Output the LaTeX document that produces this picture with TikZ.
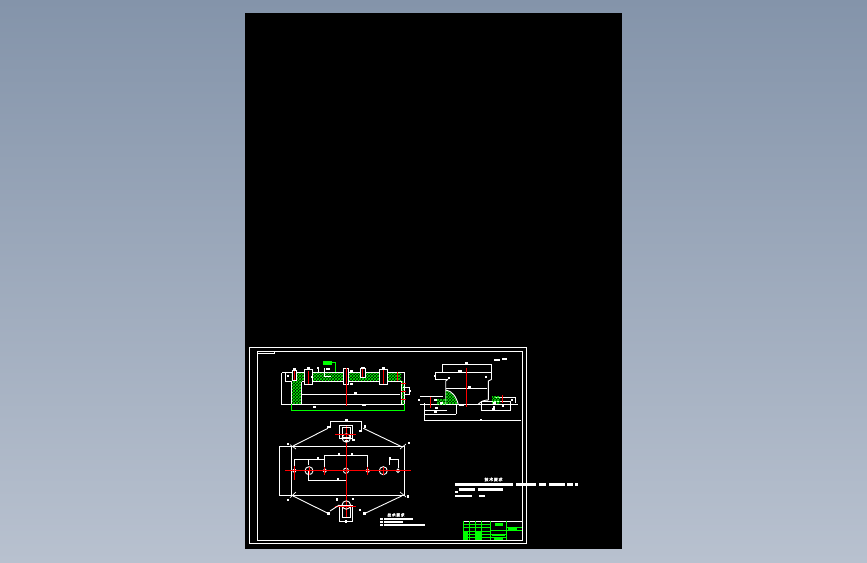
\documentclass[tikz,border=0pt]{standalone}
\usepackage{fontspec}
\newfontfamily\cjk[FakeBold=2]{Noto Sans CJK SC}
\usetikzlibrary{patterns}
\definecolor{cadred}{RGB}{255,0,0}
\definecolor{cadgreen}{RGB}{0,255,0}
\definecolor{skytop}{RGB}{132,148,170}
\definecolor{skybot}{RGB}{184,193,207}
\tikzset{
  wline/.style={draw=white, line width=0.9pt},
  thin line/.style={draw=white, line width=0.7pt},
  redline/.style={draw=cadred, line width=1pt},
  gline/.style={draw=cadgreen, line width=0.9pt},
  hatched/.style={pattern=crosshatch, pattern color=cadgreen},
  blob/.style={fill=white, draw=none},
}
% short filled bar in place of an unreadable dimension text
\newcommand{\blobat}[3]{\fill[blob] (#1-#3/2,#2-1.1) rectangle (#1+#3/2,#2+1.1);}
\begin{document}
\begin{tikzpicture}[x=1pt,y=-1pt]
  \useasboundingbox (0,0) rectangle (867,562);
  \shade[top color=skytop, bottom color=skybot, draw=none] (0,0) rectangle (867,562);
  \fill[black] (245,13) rectangle (622,549);
  % frames
  \draw[wline] (249.3,347.5) rectangle (526,543.8);
  \draw[wline] (257.5,351.3) rectangle (522,540.5);
  \draw[thin line] (257.5,353.2) -- (274.7,353.2) -- (274.7,351.3);

  % section view
  \fill[hatched] (291.7,372.3) rectangle (301.7,404.3);
  \fill[hatched] (301.7,372.3) rectangle (401,381.7);
  \fill[hatched] (401.7,381.7) rectangle (404.7,404.3);
  \draw[wline] (282.3,372.3) -- (404.7,372.3) -- (404.7,404.3) -- (281,404.3);
  \draw[wline] (291.7,381) -- (291.7,404.3);
  \draw[wline] (301.7,381.7) -- (301.7,404.3);
  \draw[wline] (301.7,381.7) -- (401,381.7) -- (401,404.3);
  \draw[wline] (301.7,394.3) -- (400,394.3);
  \draw[thin line] (281.7,373) -- (281.7,403.5);
  \draw[gline] (291.7,404.3) -- (291.7,410.3) -- (404.7,410.3) -- (404.7,404.3);
  \fill[cadgreen] (323,361) rectangle (332.3,365);
  \draw[gline] (332.3,362.5) -- (335,362.5) -- (335,372.3);
  % holes of the section view
  \foreach \hx/\hw/\htop/\hbot in {294.5/2.2/370/380, 308.5/3.8/369/384.5, 346.3/2.4/368/384, 362.7/2.4/368.5/377, 383.3/3.8/369/384.5}{
    \fill[black] (\hx-\hw,\htop) rectangle (\hx+\hw,\hbot);
    \draw[wline] (\hx-\hw,\htop) rectangle (\hx+\hw,\hbot);
  }
  \draw[redline] (294,370) -- (294,380);
  \draw[redline] (308.3,371) -- (308.3,384);
  \draw[redline] (346.3,368) -- (346.3,406);
  \draw[redline] (362.7,368.5) -- (362.7,377);
  \draw[redline] (383.3,370) -- (383.3,384);
  \draw[redline] (397.3,371.5) -- (397.3,381);
  \foreach \ry in {383.3,391,399}
    \draw[redline] (400.5,\ry) -- (405.5,\ry);
  % small marks on the section view
  \draw[thin line] (403,387) -- (409,387) -- (409,394) -- (404.7,394);
  \draw[thin line] (285,381) -- (285,372.3);
  \draw[thin line] (285,381) -- (291.7,381);
  \draw[thin line] (318,367) -- (318,372) (324,368) -- (324,376) -- (331,376);
  \foreach \bx/\by/\bw in {294.5/369.5/3, 308.5/368/3, 288/376/2.5, 317.5/368/2, 328/369/4, 351/371/3, 363/368/3.5, 383.3/368/3, 312/377/2, 351.5/384/3, 355/393/3, 363.5/405/4, 314.5/407/3, 409.5/391/2}
    {\blobat{\bx}{\by}{\bw}}

  % side view
  \draw[wline] (442.3,364.3) -- (491.7,364.3) -- (491.7,379.3);
  \draw[wline] (442.3,364.3) -- (442.3,372.3);
  \draw[wline] (435.7,372.3) -- (491.7,372.3);
  \draw[wline] (435.7,372.3) -- (435.7,379.3) -- (448,379.3);
  \draw[wline] (448,379.3) -- (445.7,381) -- (445.7,404.5);
  \draw[wline] (491.7,379.3) -- (488.3,381) -- (488.3,400);
  \draw[wline] (445.7,388.3) -- (487,388.3);
  \fill[hatched] (445.7,390) .. controls (452,391) and (456,396) .. (458.3,404.5) -- (445.7,404.5) -- cycle;
  \draw[wline] (445.7,390) .. controls (452,391) and (456,396) .. (458.3,404.5);
  \draw[wline] (478,404.5) .. controls (481,401) and (485,400) .. (488.3,400);
  \draw[wline] (420,404.5) -- (518,404.5);
  \draw[thin line] (420,396.7) -- (443,396.7);
  \draw[thin line] (495,397.3) -- (515,397.3) -- (515,403);
  \draw[wline] (424,403) -- (424,420.7);
  \draw[wline] (424,410.7) -- (446.5,410.7);
  \draw[wline] (425,414) -- (456,414);
  \draw[wline] (456,405) -- (456,414);
  \draw[wline] (481.7,401) -- (510.7,401) -- (510.7,410.7) -- (481.7,410.7) -- cycle;
  \draw[wline] (424,420.7) -- (521,420.7);
  \fill[hatched] (437,399) rectangle (445.5,404);
  \fill[hatched] (492,396.5) rectangle (500,403);
  \draw[redline] (466.7,367.5) -- (466.7,407);
  \draw[redline] (430.7,396.7) -- (430.7,407.5);
  \draw[redline] (502.7,395) -- (502.7,403);
  \foreach \bx/\by/\bw in {466.5/363/3, 459.5/371/4, 469.5/387.5/3, 435/376/1.5, 449/378/1.5, 486/377/1.5, 497/360/6, 504.5/359/5, 435/400/3, 441.5/403/2.5, 436/408/3, 461.5/405/5, 435.5/412.3/3, 480.5/420/2, 494/403/3, 494/407/1.5, 493.5/409.5/3, 418.5/400/2, 512/400/2, 503/406/2}
    {\blobat{\bx}{\by}{\bw}}

  % plan view
  \draw[wline] (291.7,446.7) rectangle (404.3,495);
  \draw[wline] (279.3,446.7) -- (291.7,446.7);
  \draw[wline] (279.3,495) -- (291.7,495);
  \draw[wline] (279.3,446.7) -- (279.3,495);
  \draw[wline] (324.3,455) -- (324.3,468) (324.3,455) -- (367.7,455) -- (367.7,468);
  \draw[wline] (346.3,455) -- (346.3,468);
  \draw[thin line] (294.3,459.3) -- (324.3,459.3) (294.3,459.3) -- (294.3,468);
  \draw[thin line] (308.7,459.3) -- (308.7,465);
  \draw[thin line] (389.3,459.3) -- (398,459.3) -- (398,468) (389.3,459.3) -- (389.3,465);
  \draw[thin line] (308.3,471) -- (308.3,480.3) -- (346.3,480.3) -- (346.3,471);
  \foreach \cx/\cr in {309/4, 383.3/4, 324.8/1.8, 367.7/1.8, 346/2.6, 398/1.8}
    \draw[wline] (\cx,470.7) circle (\cr);
  \fill[white] (294.3,470.7) circle (2);
  \draw[redline] (285,470.7) -- (410.7,470.7);
  \draw[redline] (346.3,425) -- (346.3,518);
  \draw[redline] (294.3,466) -- (294.3,480);
  \foreach \cx in {309,383.3,324.8,367.7}
    \draw[redline] (\cx,467) -- (\cx,474.5);
  % diagonals to the lugs
  \foreach \xa/\ya/\xb/\yb in {293/446/328/428.3, 363.3/428.3/401.7/446.7, 293/496/328/513.3, 365/513.3/401.7/496}
    \draw[wline] (\xa,\ya) -- (\xb,\yb);
  \foreach \xa/\ya/\xb/\yb in {290/444.7/296/449, 406/444/400/449, 290/497.7/296/492, 400/492/406/497}
    \draw[thin line] (\xa,\ya) -- (\xb,\yb);
  % upper lug
  \draw[wline] (330,427.5) -- (330,421) -- (361.7,421) -- (361.7,432);
  \draw[wline] (339.3,425) rectangle (352.7,438);
  \draw[wline] (342.3,427) rectangle (350.3,437);
  \draw[wline] (346.3,438) circle (4.2);
  \draw[redline] (335,434.3) -- (356,434.3);
  % lower lug
  \draw[wline] (339.3,505) rectangle (352.7,521);
  \draw[wline] (342.3,505) rectangle (350.3,517);
  \draw[wline] (346.3,505) circle (4.2);
  \draw[redline] (335,506.7) -- (356,506.7);
  \draw[wline] (330,511) -- (339.3,505);
  \foreach \bx/\by/\bw in {346.3/420/2.5, 328/427/3, 365/426.5/2.5, 360/431/1.5, 346.3/441/2.5, 353.5/440/3, 288/444/2, 409/443/2, 288/500/2, 408/496.5/2, 279.3/470.7/1.5, 339/454/2.5, 352/454/2.5, 318/458.5/2, 390/458.5/2, 338/479/2, 328/513.5/3, 364/513.5/3, 337/499.5/2, 353/499/2, 360/510/1.5, 346.3/521.5/2}
    {\blobat{\bx}{\by}{\bw}}

  % notes under the plan
  \node[inner sep=0pt, text=white, font=\cjk\fontsize{3.8}{4}\selectfont] (plannote) at (396,515) {技\,术\,要\,求};
  \foreach \nx/\ny/\nw in {380/519/3, 384/519/29, 380/522.3/3, 384/522.3/19, 380/525.3/3, 384/525.3/41}
    \fill[blob] (\nx,\ny-1) rectangle (\nx+\nw,\ny+1);
  % main notes
  \node[inner sep=0pt, text=white, font=\cjk\fontsize{4}{4}\selectfont] (mainnote) at (493.5,479.5) {技\,术\,要\,求};
  \foreach \nx/\ny/\nw in {455/484.5/58, 516/484.5/20, 539/484.5/7, 549/484.5/16, 567/484.5/6, 575/484.5/3, 459/489.5/16, 478/489.5/25, 455/492.3/3, 455/495.7/17, 479/495.7/6}
    \fill[blob] (\nx,\ny-1.1) rectangle (\nx+\nw,\ny+1.1);

  % title block
  \draw[wline] (463.3,521.3) -- (522,521.3);
  \draw[gline] (463.3,521.3) -- (463.3,540) (490,521.3) -- (490,540) (506.7,521.3) -- (506.7,540);
  \foreach \ty in {524.5,527.5,531,534,537}
    \draw[gline] (463.3,\ty) -- (490,\ty);
  \foreach \tx in {469,475,481}
    \draw[gline] (\tx,521.3) -- (\tx,540);
  \fill[cadgreen] (463.3,531) rectangle (467.5,540);
  \fill[cadgreen] (476,531) rectangle (481,540);
  \fill[cadgreen] (495,522.5) rectangle (503,526);
  \draw[gline] (490,530.3) -- (522,530.3);
  \draw[gline] (490,534) -- (506.7,534) (490,537) -- (506.7,537);
  \draw[gline] (506.7,527) -- (522,527);
  \fill[cadgreen] (508,528) rectangle (517,530);
  \fill[cadgreen] (492,535) rectangle (505,536);
  \fill[cadgreen] (494,538) rectangle (503,539.5);
\end{tikzpicture}
\end{document}
